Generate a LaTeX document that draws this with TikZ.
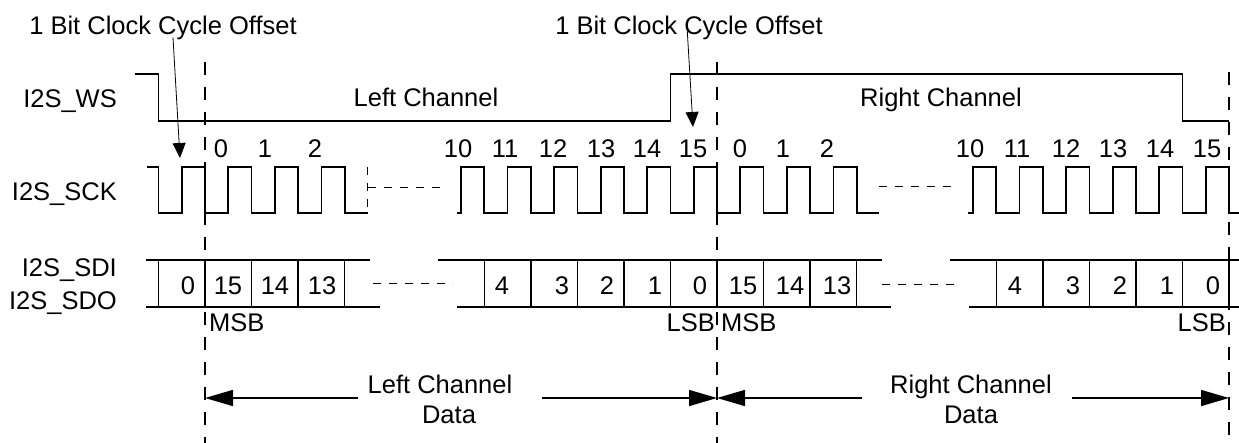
\documentclass[tikz,border=0pt]{standalone}
\usepackage{fontspec}
\setmainfont{Liberation Sans}
\usetikzlibrary{arrows.meta}
\begin{document}
\begin{tikzpicture}[x=1pt,y=-1pt,
  wave/.style={line width=1.8pt, line join=miter},
  cell/.style={line width=1.5pt},
  guide/.style={line width=2pt, dash pattern=on 13pt off 12pt},
  gapline/.style={line width=1pt, dash pattern=on 8pt off 8pt},
  lbl/.style={inner sep=0pt, font=\fontsize{25.5}{29}\selectfont},
  ann/.style={line width=0.8pt, -{Triangle[length=15pt,width=13pt]}},
  spanarrow/.style={line width=1.5pt, -{Triangle[length=28pt,width=16pt]}},
]
\useasboundingbox (0,0) rectangle (1239,443);
\fill[white] (0,0) rectangle (1239,443);

% guide lines
\coordinate (gA) at (205,443);
\coordinate (gB) at (717,443);
\coordinate (gC) at (1229,443);
\draw[guide] (205,62) -- (gA);
\draw[guide] (717,62) -- (gB);
\draw[guide] (1229,72) -- (gC);

% signal names
\node[lbl, anchor=base east] (nws) at (117,108) {I2S\_WS};
\node[lbl, anchor=base east] (nsck) at (117,201) {I2S\_SCK};
\node[lbl, anchor=base east] (nsdi) at (117,277) {I2S\_SDI};
\node[lbl, anchor=base east] (nsdo) at (117,310) {I2S\_SDO};

% annotations
\node[lbl, anchor=base] (off1) at (163,35) {1 Bit Clock Cycle Offset};
\node[lbl, anchor=base] (off2) at (689,35) {1 Bit Clock Cycle Offset};
\coordinate (t1) at (180,158);
\coordinate (t2) at (693,127);
\draw[ann] ([xshift=10pt,yshift=3pt]off1.south) -- (t1);
\draw[ann] ([xshift=-2pt,yshift=14pt]off2.south) -- (t2);

% WS
\draw[wave] (135,74) -- (158.5,74) -- (158.5,121) -- (670.5,121) -- (670.5,74) -- (1182.5,74) -- (1182.5,121) -- (1229,121);
\node[lbl, anchor=base] (lch) at (426,107) {Left Channel};
\node[lbl, anchor=base] (rch) at (941,107) {Right Channel};

% SCK
\draw[wave] (147,167) -- (158.5,167) -- (158.5,213) -- (181.7,213) -- (181.7,167) -- (205,167) -- (205,213) -- (228.3,213) -- (228.3,167) -- (251.5,167) -- (251.5,213) -- (274.8,213) -- (274.8,167) -- (298.1,167) -- (298.1,213) -- (321.4,213) -- (321.4,167) -- (344.6,167) -- (344.6,213) -- (367.9,213);
\draw[gapline] (367.9,167) -- (367.9,213);
\draw[gapline] (368,188) -- (447,188);
\draw[wave] (457,213) -- (461,213) -- (461,167) -- (484.3,167) -- (484.3,213) -- (507.5,213) -- (507.5,167) -- (530.8,167) -- (530.8,213) -- (554.1,213) -- (554.1,167) -- (577.4,167) -- (577.4,213) -- (600.6,213) -- (600.6,167) -- (623.9,167) -- (623.9,213) -- (647.2,213) -- (647.2,167) -- (670.5,167) -- (670.5,213) -- (693.7,213) -- (693.7,167) -- (717,167) -- (717,213) -- (740.3,213) -- (740.3,167) -- (763.5,167) -- (763.5,213) -- (786.8,213) -- (786.8,167) -- (810.1,167) -- (810.1,213) -- (833.4,213) -- (833.4,167) -- (856.6,167) -- (856.6,213) -- (879,213);
\draw[gapline] (879,187) -- (957,187);
\draw[wave] (968,213) -- (973,213) -- (973,167) -- (996.3,167) -- (996.3,213) -- (1019.5,213) -- (1019.5,167) -- (1042.8,167) -- (1042.8,213) -- (1066.1,213) -- (1066.1,167) -- (1089.4,167) -- (1089.4,213) -- (1112.6,213) -- (1112.6,167) -- (1135.9,167) -- (1135.9,213) -- (1159.2,213) -- (1159.2,167) -- (1182.5,167) -- (1182.5,213) -- (1205.7,213) -- (1205.7,167) -- (1229,167) -- (1229,213) -- (1239,213);

% SCK bit numbers
\foreach \x/\t [count=\i] in {221/0,265/1,315/2,458/10,505/11,553/12,601/13,647/14,693/15,740/0,783/1,827/2,970/10,1017/11,1066/12,1113/13,1160/14,1207/15}
  \node[lbl, anchor=base] (sck\i) at (\x,158) {\t};

% data row
\draw[cell] (146,260) -- (370,260);
\draw[cell] (438,260) -- (882,260);
\draw[cell] (950,260) -- (1239,260);
\draw[cell] (146,307) -- (380,307);
\draw[cell] (457,307) -- (891,307);
\draw[cell] (969,307) -- (1239,307);
\foreach \x in {158.5,205,251.5,298.1,344.6,484.3,530.8,577.4,623.9,670.5,717,763.5,810.1,856.6,996.3,1042.8,1089.4,1135.9,1182.5,1229}
  \draw[cell] (\x,260) -- (\x,307);
\draw[gapline] (373,284) -- (453,284);
\draw[gapline] (882,285) -- (960,285);
\foreach \x/\t [count=\i] in {188/0,228/15,275/14,322/13,502/4,562/3,607/2,655/1,700/0,743/15,790/14,837/13,1015/4,1073/3,1120/2,1167/1,1213/0}
  \node[lbl, anchor=base] (bit\i) at (\x,295) {\t};

% MSB / LSB
\node[lbl, anchor=base west] (msb1) at (209,332) {MSB};
\node[lbl, anchor=base east] (lsb1) at (715,332) {LSB};
\node[lbl, anchor=base west] (msb2) at (721,332) {MSB};
\node[lbl, anchor=base east] (lsb2) at (1226,332) {LSB};

% channel data spans
\node[lbl, anchor=base] (ldat1) at (440,393) {Left Channel};
\node[lbl, anchor=base] (ldat2) at (449,423) {Data};
\node[lbl, anchor=base] (rdat1) at (971,393) {Right Channel};
\node[lbl, anchor=base] (rdat2) at (971,423) {Data};
\coordinate (aL1) at (358,398);
\coordinate (aL2) at (542,398);
\coordinate (aR1) at (862,398);
\coordinate (aR2) at (1072,398);
\draw[spanarrow] (aL1) -- (gA |- aL1);
\draw[spanarrow] (aL2) -- (gB |- aL2);
\draw[spanarrow] (aR1) -- (gB |- aR1);
\draw[spanarrow] (aR2) -- (gC |- aR2);
\end{tikzpicture}
\end{document}
